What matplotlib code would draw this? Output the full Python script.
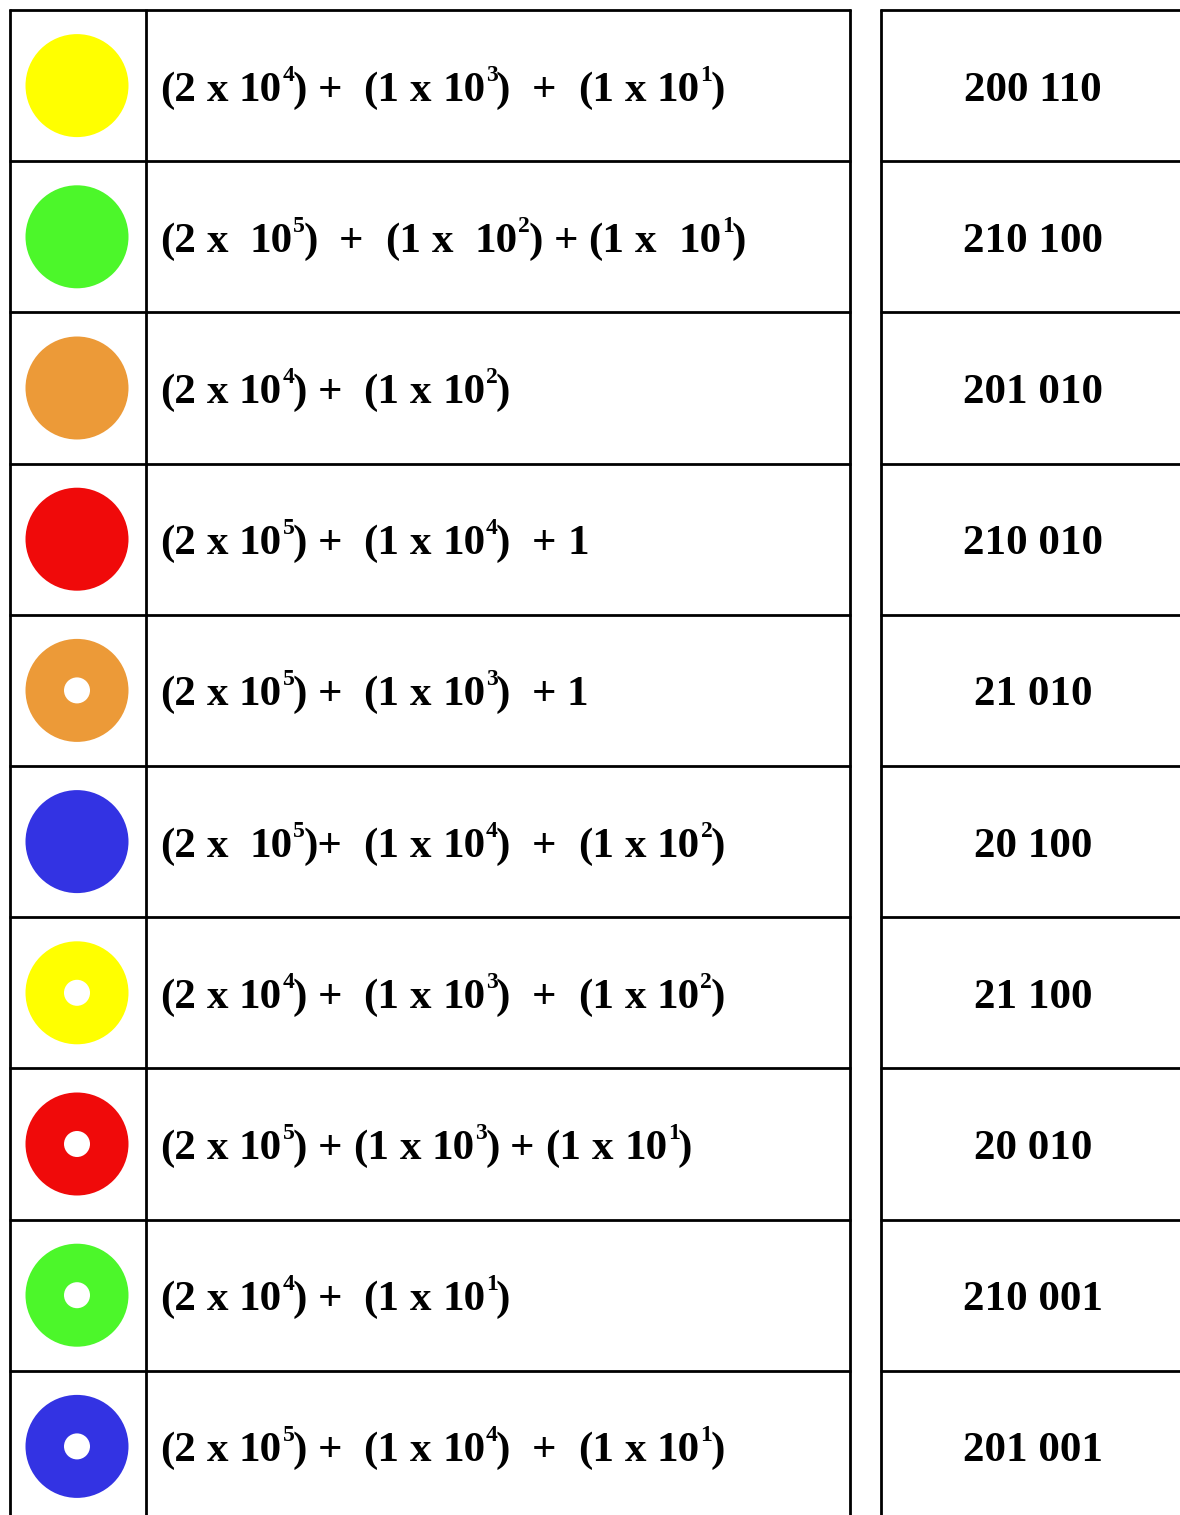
import matplotlib
matplotlib.use("Agg")
import matplotlib.pyplot as plt
from matplotlib.patches import Circle

# ---- data ----
dot_colors = ["#FFFF00", "#4CF72A", "#EC9A38", "#F00A0A", "#EC9A38",
              "#3333E3", "#FFFF00", "#F00A0A", "#4CF72A", "#3333E3"]
dot_holes = [False, False, False, False, True, False, True, True, True, True]
expressions = [
    "(2 x 10^4) +  (1 x 10^3)  +  (1 x 10^1)",
    "(2 x  10^5)  +  (1 x  10^2) + (1 x  10^1)",
    "(2 x 10^4) +  (1 x 10^2)",
    "(2 x 10^5) +  (1 x 10^4)  + 1",
    "(2 x 10^5) +  (1 x 10^3)  + 1",
    "(2 x  10^5)+  (1 x 10^4)  +  (1 x 10^2)",
    "(2 x 10^4) +  (1 x 10^3)  +  (1 x 10^2)",
    "(2 x 10^5) + (1 x 10^3) + (1 x 10^1)",
    "(2 x 10^4) +  (1 x 10^1)",
    "(2 x 10^5) +  (1 x 10^4)  +  (1 x 10^1)",
]
numbers = ["200 110", "210 100", "201 010", "210 010", "21 010",
           "20 100", "21 100", "20 010", "210 001", "201 001"]

# ---- layout ----
W, H = 1180, 1515
fig = plt.figure(figsize=(W / 100, H / 100), dpi=100)
ax = fig.add_axes([0, 0, 1, 1])
ax.set_xlim(0, W)
ax.set_ylim(H, 0)
ax.axis("off")

top = 10
row_h = 151.2
x_left, x_div, x_mid_r, x_right_l = 10, 146, 850, 881
lw = 2.0
FONT = "Liberation Serif"
FS = 31
FS_SUP = 17
SUP_RAISE = 20

n = len(expressions)
for i in range(n):
    y = top + i * row_h
    ax.hlines(y, x_left - 1, x_mid_r + 1, color="black", lw=lw)
    ax.hlines(y, x_right_l - 1, W + 5, color="black", lw=lw)
for xv in (x_left, x_div, x_mid_r, x_right_l):
    ax.vlines(xv, top - 1, H + 5, color="black", lw=lw)

renderer = fig.canvas.get_renderer()


def width_of(txt, fs):
    t = ax.text(0, 0, txt, fontsize=fs, family=FONT, weight="bold")
    w = t.get_window_extent(renderer).width
    t.remove()
    return w


space_w = width_of("x x", FS) - width_of("xx", FS)


def draw_expr(x, y, s):
    i = 0
    run = ""

    def flush(x, run):
        if run:
            t = ax.text(x, y, run, fontsize=FS, family=FONT, weight="bold",
                        va="baseline", ha="left")
            x += t.get_window_extent(renderer).width
        return x

    while i < len(s):
        ch = s[i]
        if ch == " ":
            x = flush(x, run); run = ""
            x += space_w
            i += 1
        elif ch == "^":
            x = flush(x, run); run = ""
            sup = s[i + 1]
            t = ax.text(x + 0.5, y - SUP_RAISE, sup, fontsize=FS_SUP, family=FONT,
                        weight="bold", va="baseline", ha="left")
            x += t.get_window_extent(renderer).width - 1.5
            i += 2
        else:
            run += ch
            i += 1
    flush(x, run)


for i in range(n):
    cy = top + i * row_h + row_h / 2
    ax.add_patch(Circle((77, cy), 51.5, facecolor=dot_colors[i], edgecolor="none"))
    if dot_holes[i]:
        ax.add_patch(Circle((77, cy), 13, facecolor="white", edgecolor="none"))
    base = cy + 15
    draw_expr(160, base, expressions[i])
    ax.text(1033, base, numbers[i], fontsize=FS, family=FONT, weight="bold",
            va="baseline", ha="center")

fig.savefig("out.png", dpi=100)
